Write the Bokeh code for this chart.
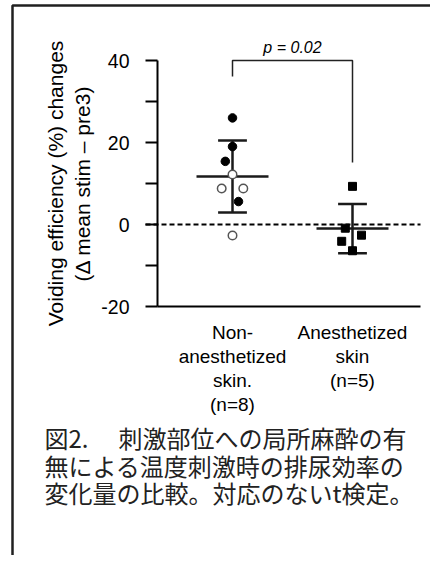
from bokeh.plotting import figure
from bokeh.models import Range1d, LinearAxis, FixedTicker
from bokeh.embed import file_html
from bokeh.resources import INLINE
from bokeh.core.properties import value

# ---------------- data ----------------
group_pos = [1, 2]
group_labels = ["Non-\nanesthetized\nskin.\n(n=8)", "Anesthetized\nskin\n(n=5)"]

# Non-anesthetized skin: filled circles and open circles
non_filled_vals = [26.0, 19.0, 15.4, 5.6]
non_filled_jit = [0.0, 0.0, -0.06, 0.05]
non_open_vals = [12.2, 8.8, 8.8, -2.7]
non_open_jit = [0.0, -0.09, 0.09, 0.0]

# Anesthetized skin: squares
anes_vals = [9.3, -0.9, -2.6, -4.1, -6.4]
anes_jit = [0.0, -0.06, 0.075, -0.09, 0.0]

means = [11.7, -1.0]
sds = [8.8, 6.0]

y_ticks = [-20, -10, 0, 10, 20, 30, 40]
y_tick_labels = {-20: "-20", -10: "", 0: "0", 10: "", 20: "20", 30: "", 40: "40"}

p_text = "p = 0.02"
bracket_top = 40
bracket_left_end = 36.1
bracket_right_end = 15.1

caption_head = "図2."
caption_lines = ["刺激部位への局所麻酔の有",
                 "無による温度刺激時の排尿効率の",
                 "変化量の比較。対応のないt検定。"]

y_label = "Voiding efficiency (%) changes\n(\u0394 mean stim \u2013 pre3)"

# ---------------- layout helpers ----------------
W, H = 430, 555
PX_X = 120.0      # pixels per x unit
PX_Y = 4.1        # pixels per y unit
x0 = 1 - 232 / PX_X
x1 = x0 + W / PX_X
y1 = 40 + 60 / PX_Y
y0 = y1 - H / PX_Y

def px2x(px):
    return x0 + px / PX_X

def py2y(py):
    return y1 - py / PX_Y

p = figure(width=W, height=H, output_backend="svg", toolbar_location=None,
           x_range=Range1d(x0, x1), y_range=Range1d(y0, y1),
           x_axis_location=None, y_axis_location=None,
           min_border=0, min_border_left=0, min_border_right=0,
           min_border_top=0, min_border_bottom=0)
p.outline_line_color = None
p.background_fill_color = "white"
p.border_fill_color = "white"
for g in p.grid:
    g.visible = False

FONT = "Liberation Sans"
axis_x = px2x(157)
axis_right = px2x(420)

# frame border (left and top)
bx = px2x(12)
by = py2y(5)
p.line(x=[bx, bx, x1 + 1], y=[y0 - 10, by, by], line_color="#202020", line_width=2.5)

# y axis
yax = LinearAxis(fixed_location=axis_x, bounds=(-20, 40),
                 ticker=FixedTicker(ticks=y_ticks))
yax.major_label_overrides = y_tick_labels
yax.minor_tick_line_color = None
yax.major_tick_in = 0
yax.major_tick_out = 12
yax.major_tick_line_width = 2
yax.axis_line_width = 2
yax.major_label_text_font = FONT
yax.major_label_text_font_size = "19.5px"
yax.major_label_text_color = "black"
yax.major_label_standoff = 16
yax.axis_label = y_label
yax.axis_label_text_font = FONT
yax.axis_label_text_font_size = "21px"
yax.axis_label_text_font_style = "normal"
yax.axis_label_text_color = "black"
yax.axis_label_standoff = 4
p.add_layout(yax, "left")

# x axis
xax = LinearAxis(fixed_location=-20, bounds=(axis_x, axis_right),
                 ticker=FixedTicker(ticks=group_pos))
xax.major_label_overrides = {g: l for g, l in zip(group_pos, group_labels)}
xax.minor_tick_line_color = None
xax.major_tick_in = 0
xax.major_tick_out = 0
xax.axis_line_width = 2
xax.major_label_text_font = FONT
xax.major_label_text_font_size = "19px"
xax.major_label_text_color = "black"
xax.major_label_text_line_height = 1.15
xax.major_label_standoff = 15
p.add_layout(xax, "below")

# zero dashed line
p.segment(x0=[px2x(145)], y0=[0], x1=[axis_right], y1=[0],
          line_color="black", line_width=2, line_dash="5 3")

# mean lines
mean_hw = 0.3
cap_hw = 0.12
p.segment(x0=[g - mean_hw for g in group_pos], y0=means,
          x1=[g + mean_hw for g in group_pos], y1=means,
          line_color="#1a1a1a", line_width=2.5)
# SD bars
up = [m + s for m, s in zip(means, sds)]
lo = [m - s for m, s in zip(means, sds)]
p.segment(x0=group_pos, y0=lo, x1=group_pos, y1=up,
          line_color="#1a1a1a", line_width=2.5)
p.segment(x0=[g - cap_hw for g in group_pos] * 2, y0=up + lo,
          x1=[g + cap_hw for g in group_pos] * 2, y1=up + lo,
          line_color="#1a1a1a", line_width=2.5)

# points
p.scatter(x=[group_pos[0] + j for j in non_filled_jit], y=non_filled_vals,
          marker="circle", size=8.5, fill_color="black", line_color="black")
p.scatter(x=[group_pos[0] + j for j in non_open_jit], y=non_open_vals,
          marker="circle", size=8.5, fill_color="white", line_color="#555555",
          line_width=1.5)
p.scatter(x=[group_pos[1] + j for j in anes_jit], y=anes_vals,
          marker="square", size=8, fill_color="black", line_color="black")

# significance bracket
p.line(x=[group_pos[0], group_pos[0], group_pos[1], group_pos[1]],
       y=[bracket_left_end, bracket_top, bracket_top, bracket_right_end],
       line_color="#222222", line_width=1.5)
p.text(x=[(group_pos[0] + group_pos[1]) / 2], y=[bracket_top + 3.2], text=[p_text],
       text_font=value(FONT), text_font_style="italic", text_font_size="16px",
       text_align="center", text_baseline="middle", text_color="black")

# caption
CJK = "Noto Sans CJK JP"
p.text(x=[px2x(44)], y=[py2y(437)], text=[caption_head],
       text_font=value(CJK), text_font_size="24px",
       text_align="left", text_baseline="middle", text_color="#222222")
cap_x = [px2x(118), px2x(44), px2x(44)]
cap_y = [py2y(437), py2y(465), py2y(492)]
p.text(x=cap_x, y=cap_y, text=caption_lines,
       text_font=value(CJK), text_font_size="24px",
       text_align="left", text_baseline="middle", text_color="#222222")

open("out.html", "w").write(file_html(p, INLINE))
